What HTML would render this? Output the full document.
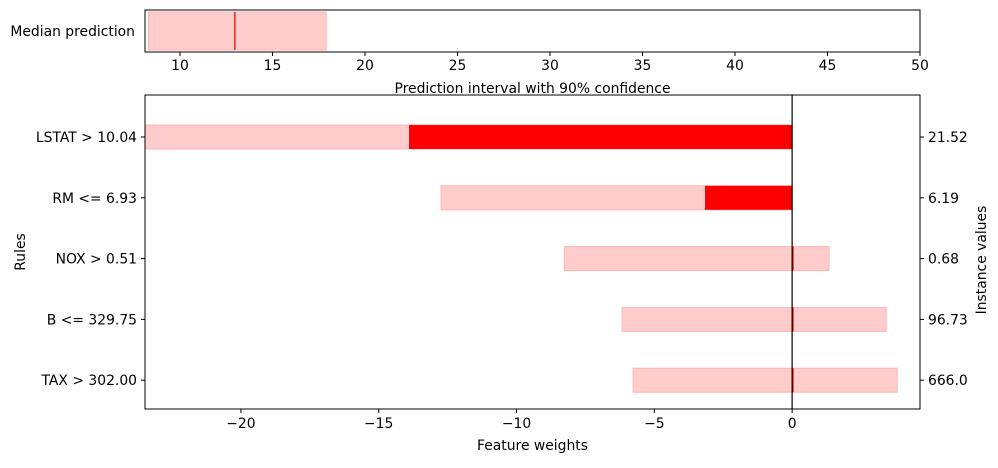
<!DOCTYPE html>
<html><head><meta charset="utf-8"><style>
body{margin:0;background:#fff;font-family:"Liberation Sans","DejaVu Sans",sans-serif;}
svg text{font-family:"DejaVu Sans","Liberation Sans",sans-serif;font-size:13.9px;fill:#000;}
</style></head><body>
<svg id="c" width="998" height="463" xmlns="http://www.w3.org/2000/svg"></svg>
<script>
const rules = ["LSTAT > 10.04","RM <= 6.93","NOX > 0.51","B <= 329.75","TAX > 302.00"];
const instanceValues = ["21.52","6.19","0.68","96.73","666.0"];
const weightLow = [-23.5,-12.74,-8.27,-6.17,-5.77];
const weightHigh = [0,0,1.34,3.41,3.81];
const weightMedian = [-13.9,-3.16,0,0,0];
const predLow = 8.3, predHigh = 17.9, predMedian = 12.97;
const topTicks = [10,15,20,25,30,35,40,45,50];
const bottomTicks = [-20,-15,-10,-5,0];

const svg = document.getElementById('c');
const NS = 'http://www.w3.org/2000/svg';
function el(tag, attrs, parent){const e=document.createElementNS(NS,tag);for(const k in attrs)e.setAttribute(k,attrs[k]);(parent||svg).appendChild(e);return e;}
function txt(s, attrs){const e=el('text',attrs);e.textContent=s;return e;}

const tL=145,tR=920,tT=10,tB=52,tMin=8.11,tMax=50;
const tx=v=>tL+(v-tMin)/(tMax-tMin)*(tR-tL);
let r=el('rect',{x:tx(predLow),y:12,width:tx(predHigh)-tx(predLow),height:38,fill:'#ffcccc',stroke:'#ffb3b3'});


let m=el('line',{x1:tx(predMedian),x2:tx(predMedian),y1:12,y2:50,stroke:'#cc0000','stroke-width':1.2});


el('rect',{x:tL,y:tT,width:tR-tL,height:tB-tT,fill:'none',stroke:'#000','stroke-width':1});
txt('Median prediction',{x:tL-10,y:36,'text-anchor':'end'});
topTicks.forEach(v=>{el('line',{x1:tx(v),x2:tx(v),y1:tB,y2:tB+4,stroke:'#000'});
 const t=txt(String(v),{x:tx(v),y:tB+18,'text-anchor':'middle'});
 
 });
txt('Prediction interval with 90% confidence',{x:(tL+tR)/2,y:93,'text-anchor':'middle'});

const bL=145,bR=920,bT=95,bB=409,bMin=-23.48,bMax=4.64;
const bx=v=>bL+(v-bMin)/(bMax-bMin)*(bR-bL);
const rowY=i=>137+i*60.8;
rules.forEach((rule,i)=>{
 const y=rowY(i);
 const lo=Math.max(weightLow[i],bMin);
 const b=el('rect',{x:bx(lo),y:y-12,width:bx(weightHigh[i])-bx(lo),height:24,fill:'#ffcccc',stroke:'#ffb3b3'});
 
 
 const a=Math.min(weightMedian[i],0),z=Math.max(weightMedian[i],0);
 const rr=el('rect',{x:bx(a),y:y-12,width:Math.max(bx(z)-bx(a),1.5),height:24,fill:'#ff0000'});
 
 
 el('line',{x1:bL-4,x2:bL,y1:y,y2:y,stroke:'#000'});
 el('line',{x1:bR,x2:bR+4,y1:y,y2:y,stroke:'#000'});
 const t1=txt(rule,{x:bL-8,y:y+5,'text-anchor':'end'});
 
 
 const t2=txt(instanceValues[i],{x:bR+8,y:y+5});
 
 
});
el('line',{x1:bx(0),x2:bx(0),y1:bT,y2:bB,stroke:'#000','stroke-width':1.2});
el('rect',{x:bL,y:bT,width:bR-bL,height:bB-bT,fill:'none',stroke:'#000','stroke-width':1});
bottomTicks.forEach(v=>{el('line',{x1:bx(v),x2:bx(v),y1:bB,y2:bB+4,stroke:'#000'});
 const t=txt(v<0?'\u2212'+Math.abs(v):String(v),{x:bx(v),y:bB+19,'text-anchor':'middle'});
 
 });
txt('Feature weights',{x:(bL+bR)/2,y:450,'text-anchor':'middle'});
txt('Rules',{x:0,y:0,'text-anchor':'middle',transform:'translate(25,252) rotate(-90)'});
txt('Instance values',{x:0,y:0,'text-anchor':'middle',transform:'translate(986,260) rotate(-90)'});
</script>
</body></html>
